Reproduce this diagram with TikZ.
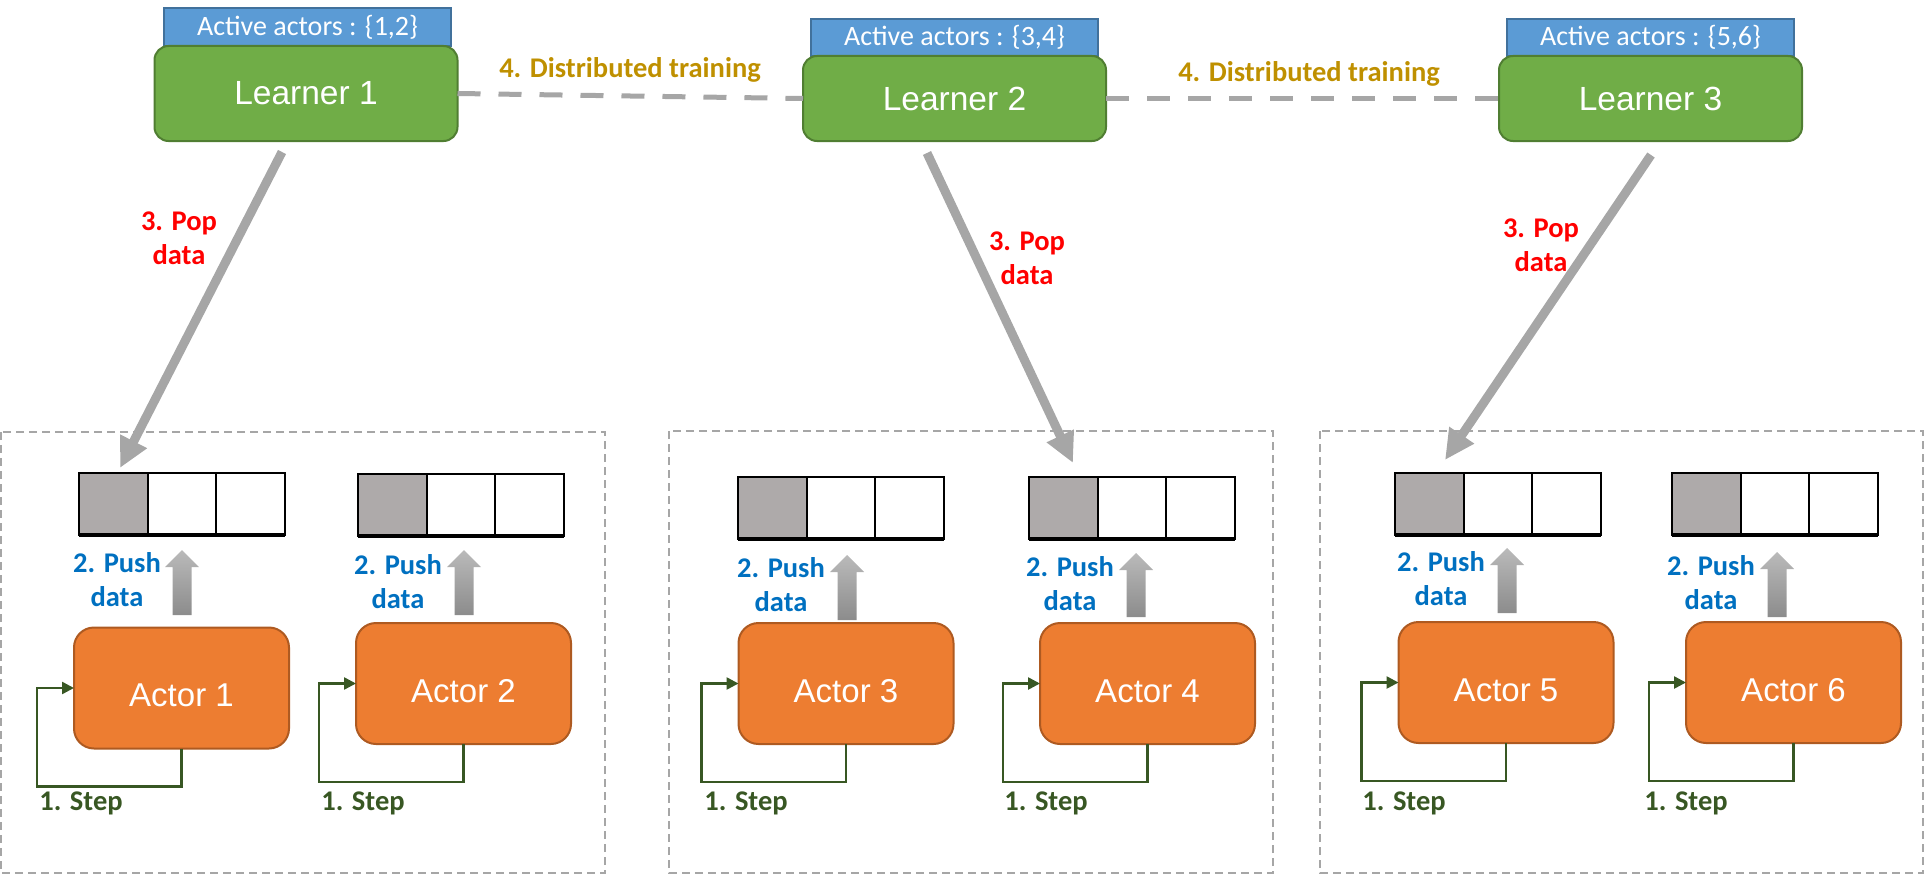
\documentclass[tikz,border=0pt]{standalone}
\usepackage{fontspec}
\setmainfont{Liberation Sans}
\newfontfamily\calfont{Carlito}
\usetikzlibrary{arrows.meta,calc}
\definecolor{lgreen}{HTML}{70AD47}
\definecolor{lgreenb}{HTML}{507E32}
\definecolor{aorange}{HTML}{ED7D31}
\definecolor{aorangeb}{HTML}{AE5A21}
\definecolor{ablue}{HTML}{5B9BD5}
\definecolor{abblue}{HTML}{41719C}
\definecolor{cellgray}{HTML}{AEAAAA}
\definecolor{arrgray}{HTML}{A6A6A6}
\definecolor{pushtop}{HTML}{BABABA}
\definecolor{pushbot}{HTML}{8C8C8C}
\definecolor{pushblue}{HTML}{0070C0}
\definecolor{popred}{HTML}{FF0000}
\definecolor{distgold}{HTML}{BF9000}
\definecolor{stepgreen}{HTML}{385723}
\newcommand\myqueue[3]{%
  \node[cell,fill=cellgray,anchor=north west] (#1a) at (#2,#3) {};
  \node[cell,anchor=north west] (#1b) at (#1a.north east) {};
  \node[cell,anchor=north west] (#1c) at (#1b.north east) {};
  \draw[line width=4pt] (#1a.south west) -- (#1c.south east);
}
\newcommand\pusharrow[3]{%
  \shade[top color=pushtop, bottom color=pushbot] (#1,#2) -- (#1+17,#2+17) -- (#1+9.5,#2+17) -- (#1+9.5,#3) -- (#1-9.5,#3) -- (#1-9.5,#2+17) -- (#1-17,#2+17) -- cycle;
}
\begin{document}
\begin{tikzpicture}[x=1pt,y=-1pt,
  learner/.style={draw=lgreenb, fill=lgreen, line width=2pt, rounded corners=14pt, text=white,
    font=\fontsize{33.5}{40}\selectfont, inner sep=0pt, outer sep=0pt, minimum width=303pt},
  activebox/.style={draw=abblue, fill=ablue, line width=2pt, text=white,
    font=\calfont\fontsize{28}{33}\selectfont, inner sep=0pt, minimum width=287pt},
  actor/.style={draw=aorangeb, fill=aorange, line width=2pt, rounded corners=20pt, text=white,
    font=\fontsize{33}{40}\selectfont, text height=37.6pt, text depth=0pt,
    minimum width=215pt, minimum height=121pt, inner sep=0pt, outer sep=0pt},
  cell/.style={draw=black, line width=2pt, minimum width=68.5pt, minimum height=62pt, inner sep=0pt, outer sep=0pt, fill=white},
  groupbox/.style={draw=arrgray, line width=2pt, dash pattern=on 8pt off 5pt},
  distline/.style={draw=arrgray, line width=5pt, dash pattern=on 23pt off 18pt},
  poparrow/.style={draw=arrgray, line width=9pt, -{Triangle[length=30pt,width=28pt]}},
  stepline/.style={draw=stepgreen, line width=2.5pt, -{Triangle[length=12pt,width=12pt]}},
  lbl/.style={font=\calfont\bfseries\fontsize{28.5}{34}\selectfont, align=center, inner sep=0pt},
  pushlbl/.style={lbl, text=pushblue},
  poplbl/.style={lbl, text=popred},
  distlbl/.style={lbl, text=distgold},
  steplbl/.style={lbl, text=stepgreen}
]
\useasboundingbox (0,0) rectangle (1925,875);

% group boxes
\draw[groupbox] (1,432) rectangle (605,873);
\draw[groupbox] (669,431) rectangle (1273,873);
\draw[groupbox] (1320,431) rectangle (1923,873);

% queues
\myqueue{q1}{79}{473}
\myqueue{q2}{358}{474}
\myqueue{q3}{738}{477}
\myqueue{q4}{1029}{477}
\myqueue{q5}{1395}{473}
\myqueue{q6}{1672}{473}

% push arrows
\pusharrow{182}{550}{615}
\pusharrow{464}{550}{615}
\pusharrow{847}{555}{620}
\pusharrow{1136}{553}{617}
\pusharrow{1507}{548}{613}
\pusharrow{1777}{552}{617}

% actors
\node[actor] (A1) at (181.5,688) {Actor 1};
\node[actor] (A2) at (463.5,683.5) {Actor 2};
\node[actor] (A3) at (846,683.5) {Actor 3};
\node[actor] (A4) at (1147.5,683.5) {Actor 4};
\node[actor] (A5) at (1506,682.5) {Actor 5};
\node[actor] (A6) at (1793.5,682.5) {Actor 6};

% step loops
\foreach \a in {A1,A2,A3,A4,A5,A6}{
  \draw[stepline] (\a.south) -- ++(0,38) -| ($(\a.west)+(-37,0)$) -- (\a.west);
}

% labels
\node[pushlbl] (pl1) at (117,580) {2. Push\\data};
\node[pushlbl] (pl2) at (398,582) {2. Push\\data};
\node[pushlbl] (pl3) at (781,585) {2. Push\\data};
\node[pushlbl] (pl4) at (1070,584) {2. Push\\data};
\node[pushlbl] (pl5) at (1441,579) {2. Push\\data};
\node[pushlbl] (pl6) at (1711,583) {2. Push\\data};

\node[steplbl] (s1) at (81,803) {1. Step};
\node[steplbl] (s2) at (363,803) {1. Step};
\node[steplbl] (s3) at (746,803) {1. Step};
\node[steplbl] (s4) at (1046,803) {1. Step};
\node[steplbl] (s5) at (1404,803) {1. Step};
\node[steplbl] (s6) at (1686,803) {1. Step};

% learners
\node[activebox, minimum height=38pt] (B1) at (307.5,27) {Active actors : \{1,2\}};
\node[activebox, minimum height=37pt] (B2) at (954.5,37.5) {Active actors : \{3,4\}};
\node[activebox, minimum height=37pt] (B3) at (1650.5,37.5) {Active actors : \{5,6\}};
\node[learner, minimum height=95pt] (L1) at (306,93.5) {Learner 1};
\node[learner, minimum height=85pt] (L2) at (954.5,98.5) {Learner 2};
\node[learner, minimum height=85pt] (L3) at (1650.5,98.5) {Learner 3};

% distributed training
\draw[distline] (L1.east) -- (L2.west);
\draw[distline] (L2.east) -- (L3.west);
\node[distlbl] (d1) at (630,70) {4. Distributed training};
\node[distlbl] (d2) at (1309,74) {4. Distributed training};

% pop arrows
\coordinate (p1s) at (282,152);
\coordinate (p1e) at (120,468);
\coordinate (p2s) at (927,153);
\coordinate (p2e) at (1073,463);
\coordinate (p3s) at (1651,155);
\coordinate (p3e) at (1445,460);
\draw[poparrow] (p1s) -- (p1e);
\draw[poparrow] (p2s) -- (p2e);
\draw[poparrow] (p3s) -- (p3e);
\node[poplbl] (o1) at (179,238) {3. Pop\\data};
\node[poplbl] (o2) at (1027,258) {3. Pop\\data};
\node[poplbl] (o3) at (1541,245) {3. Pop\\data};
\end{tikzpicture}
\end{document}
